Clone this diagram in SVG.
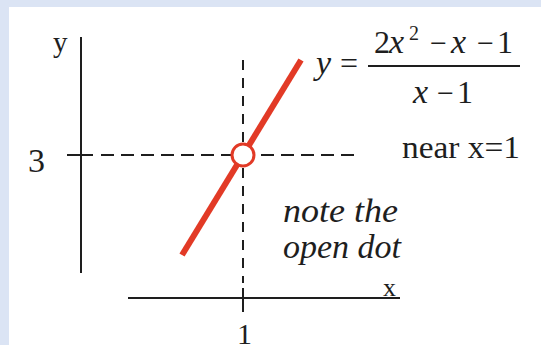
<svg xmlns="http://www.w3.org/2000/svg" width="541" height="345" viewBox="0 0 541 345">
  <style>
    .ax { stroke: #1e1e1e; stroke-width: 2; fill: none; }
    .dash { stroke: #1e1e1e; stroke-width: 2; fill: none; }
    .t { font-family: "Liberation Serif", "Times New Roman", serif; fill: #1e1e1e; }
    .i { font-style: italic; }
  </style>
  <rect x="0" y="0" width="541" height="345" fill="#dbe4f4"/>
  <rect x="9" y="7" width="532" height="338" fill="#ffffff"/>

  <g id="axes">
    <line class="ax" x1="81" y1="37" x2="81" y2="273"/>
    <line class="ax" x1="67" y1="155" x2="93" y2="155"/>
    <line class="ax" x1="128" y1="298" x2="400" y2="298"/>
    <line class="ax" x1="243" y1="288" x2="243" y2="312"/>
  </g>

  <g id="guides">
    <line class="dash" x1="101" y1="155" x2="355" y2="155" stroke-dasharray="13 7"/>
    <line class="dash" x1="243" y1="60" x2="243" y2="283" stroke-dasharray="10 8"/>
  </g>

  <g id="graph">
    <line x1="182" y1="255" x2="301" y2="60" stroke="#e23a26" stroke-width="6"/>
    <circle cx="243" cy="155" r="11" fill="#ffffff" stroke="#e23a26" stroke-width="3"/>
  </g>

  <g id="labels">
    <text class="t" x="53" y="52" font-size="29">y</text>
    <text class="t" x="28" y="172" font-size="34">3</text>
    <text class="t" x="383" y="296" font-size="26">x</text>
    <text class="t" x="237" y="344" font-size="30">1</text>
    <text class="t" x="402" y="158" font-size="32" textLength="118" lengthAdjust="spacingAndGlyphs">near x=1</text>
    <text class="t i" x="283" y="222" font-size="34" textLength="115" lengthAdjust="spacingAndGlyphs">note the</text>
    <text class="t i" x="283" y="258" font-size="34" textLength="118" lengthAdjust="spacingAndGlyphs">open dot</text>
  </g>

  <g id="equation">
    <text class="t i" x="316" y="74" font-size="34">y</text>
    <text class="t" x="340" y="74" font-size="32">=</text>
    <line x1="368" y1="66" x2="520" y2="66" stroke="#1e1e1e" stroke-width="1.8"/>
    <text class="t" x="374" y="53" font-size="32">2</text>
    <text class="t i" x="389" y="53" font-size="34">x</text>
    <text class="t" x="409" y="40" font-size="20">2</text>
    <text class="t" x="430" y="53" font-size="30">−</text>
    <text class="t i" x="451" y="53" font-size="34">x</text>
    <text class="t" x="477" y="53" font-size="30">−</text>
    <text class="t" x="497" y="53" font-size="32">1</text>
    <text class="t i" x="413" y="103" font-size="34">x</text>
    <text class="t" x="437" y="103" font-size="30">−</text>
    <text class="t" x="457" y="103" font-size="32">1</text>
  </g>
</svg>
